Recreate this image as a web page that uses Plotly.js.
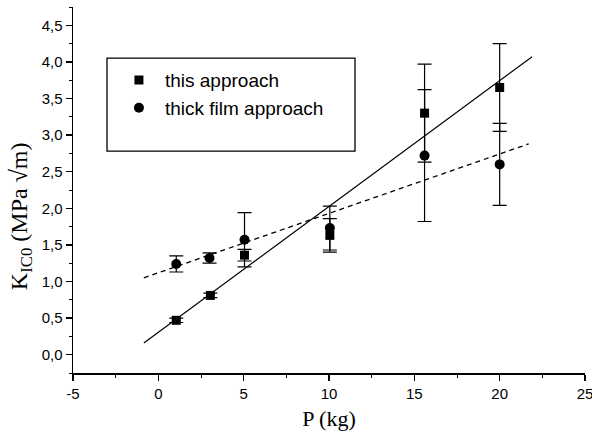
<!DOCTYPE html>
<html>
<head>
<meta charset="utf-8">
<script src="https://cdn.plot.ly/plotly-3.0.1.min.js"></script>
<style>html,body{margin:0;padding:0;background:#fff;}#chart{width:592px;height:433px;}</style>
</head>
<body>
<div id="chart"></div>
<script>
// Data
var loadThis = [1.05, 3.05, 5.05, 10.05, 15.6, 20.0];
var kThis = [0.47, 0.81, 1.36, 1.63, 3.30, 3.65];
var errThis = [0.03, 0.03, 0.08, 0.23, 0.67, 0.60];

var loadThick = [1.05, 3.0, 5.05, 10.05, 15.6, 20.0];
var kThick = [1.24, 1.32, 1.57, 1.73, 2.72, 2.60];
var errThick = [0.11, 0.07, 0.37, 0.30, 0.90, 0.56];

var fitThisX = [-0.85, 21.9];
var fitThisY = [0.16, 4.07];
var fitThickX = [-0.85, 21.7];
var fitThickY = [1.05, 2.88];

var xTickVals = [-5, 0, 5, 10, 15, 20, 25];
var xTickText = ['-5', '0', '5', '10', '15', '20', '25'];

var legendNames = ['this approach', 'thick film approach'];
var xTitle = 'P (kg)';
var yTitle = 'K<sub>IC0</sub> (MPa \u221Am)';

var traces = [
  {x: fitThisX, y: fitThisY, mode: 'lines', line: {color: '#000', width: 1.2}, showlegend: false, hoverinfo: 'skip'},
  {x: fitThickX, y: fitThickY, mode: 'lines', line: {color: '#000', width: 1.3, dash: '5px,4px'}, showlegend: false, hoverinfo: 'skip'},
  {x: loadThis, y: kThis, name: legendNames[0], mode: 'markers', type: 'scatter',
   marker: {symbol: 'square', size: 9, color: '#000'},
   error_y: {type: 'data', array: errThis, visible: true, color: '#000', thickness: 1.2, width: 7}},
  {x: loadThick, y: kThick, name: legendNames[1], mode: 'markers', type: 'scatter',
   marker: {symbol: 'circle', size: 10, color: '#000'},
   error_y: {type: 'data', array: errThick, visible: true, color: '#000', thickness: 1.2, width: 7}}
];

var layout = {
  width: 592, height: 433,
  margin: {l: 73, r: 7, t: 7, b: 60},
  paper_bgcolor: '#fff', plot_bgcolor: '#fff',
  separators: ', ',
  showlegend: true,
  font: {family: 'Liberation Sans, Arial, sans-serif', color: '#000', size: 15},
  xaxis: {
    range: [-5, 25], tickmode: 'array', tickvals: xTickVals, ticktext: xTickText,
    ticklabeloverflow: 'allow',
    showgrid: false, zeroline: false,
    showline: true, linecolor: '#000', linewidth: 1.5,
    ticks: 'outside', ticklen: 6, tickwidth: 1.3, tickcolor: '#000',
    minor: {dtick: 2.5, tick0: 2.5, ticks: 'outside', ticklen: 3, tickwidth: 1, tickcolor: '#000', showgrid: false},
    tickfont: {size: 15, family: 'Liberation Sans, Arial, sans-serif'},
    title: {text: xTitle, font: {family: 'Liberation Serif, Times New Roman, serif', size: 22}, standoff: 10}
  },
  yaxis: {
    range: [-0.25, 4.75], dtick: 0.5, tick0: 0, tickformat: '.1f', showgrid: false, zeroline: false,
    showline: true, linecolor: '#000', linewidth: 1.5,
    ticks: 'outside', ticklen: 6, tickwidth: 1.3, tickcolor: '#000',
    minor: {dtick: 0.25, ticks: 'outside', ticklen: 3, tickwidth: 1, tickcolor: '#000', showgrid: false},
    tickfont: {size: 15, family: 'Liberation Sans, Arial, sans-serif'}
  },
  legend: {
    x: 0.078, y: 0.852, xanchor: 'left', yanchor: 'top',
    bgcolor: 'rgba(0,0,0,0)', borderwidth: 0,
    font: {size: 19, family: 'Liberation Sans, Arial, sans-serif', color: '#000'},
    itemwidth: 42, tracegroupgap: 0
  },
  shapes: [
    {type: 'rect', xref: 'paper', yref: 'paper', x0: (107 - 73) / 512, x1: (355 - 73) / 512,
     y0: 1 - (151 - 7) / 365.7, y1: 1 - (58 - 7) / 365.7, line: {color: '#000', width: 1.3}, fillcolor: 'rgba(0,0,0,0)'}
  ],
  annotations: [
    {text: yTitle, xref: 'paper', yref: 'paper', x: (21 - 73) / 512, y: 1 - (216 - 7) / 365.7,
     xanchor: 'center', yanchor: 'middle', textangle: -90, showarrow: false,
     font: {family: 'Liberation Serif, Times New Roman, serif', size: 24, color: '#000'}}
  ]
};

Plotly.newPlot('chart', traces, layout, {staticPlot: true, displayModeBar: false});
</script>
</body>
</html>
